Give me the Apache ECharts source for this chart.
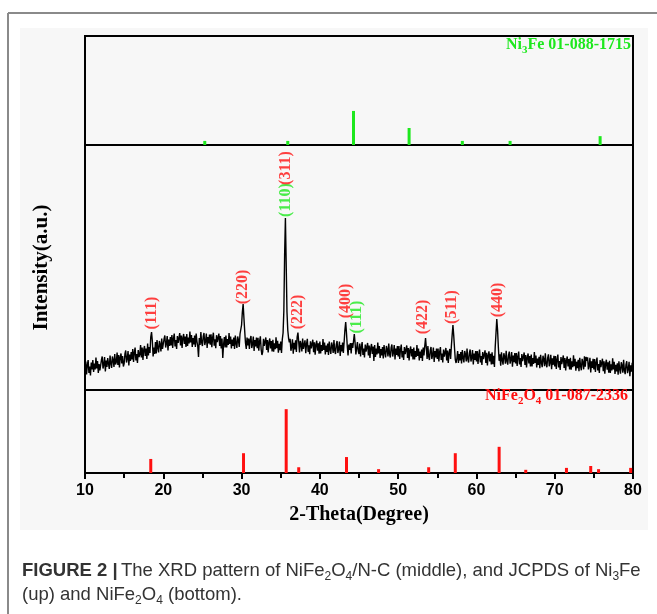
<!DOCTYPE html>
<html>
<head>
<meta charset="utf-8">
<script src="https://cdn.jsdelivr.net/npm/echarts@6/dist/echarts.min.js"></script>
<style>
  html, body { margin: 0; padding: 0; background: #fff; }
  #chart { width: 657px; height: 614px; }
</style>
</head>
<body>
<div id="chart"></div>
<script>
// 2-Theta axis
const thetaMin = 10;
const thetaMax = 80;
const thetaTicks = [10, 20, 30, 40, 50, 60, 70, 80];

// Measured pattern of NiFe2O4/N-C, sampled every 0.1 degree from 10 to 80
const scanStart = 10;
const scanStep = 0.1;
const scanIntensity = [
  180, 285, 155, 250, 300, 170, 235, 145, 275, 205,
  300, 180, 265, 205, 325, 215, 290, 170, 260, 195,
  205, 300, 335, 215, 255, 330, 185, 295, 230, 320,
  325, 210, 345, 265, 220, 335, 300, 230, 360, 255,
  280, 375, 250, 350, 225, 325, 365, 265, 340, 235,
  265, 360, 395, 275, 315, 390, 245, 355, 290, 380,
  305, 410, 280, 375, 425, 295, 360, 270, 400, 330,
  355, 450, 325, 425, 300, 400, 440, 340, 415, 310,
  465, 345, 430, 370, 530, 580, 490, 335, 425, 360,
  480, 365, 500, 420, 375, 490, 455, 385, 515, 410,
  415, 510, 545, 425, 465, 540, 395, 505, 440, 530,
  445, 550, 420, 515, 565, 435, 500, 410, 540, 470,
  475, 570, 445, 545, 420, 520, 560, 460, 535, 430,
  560, 440, 525, 465, 585, 475, 550, 430, 520, 455,
  545, 430, 565, 485, 440, 330, 520, 450, 580, 475,
  440, 535, 570, 450, 490, 565, 420, 530, 465, 555,
  453, 558, 428, 523, 573, 443, 508, 418, 548, 478,
  470, 565, 440, 540, 415, 515, 320, 455, 530, 425,
  545, 425, 510, 450, 570, 460, 535, 415, 505, 440,
  525, 410, 545, 465, 420, 535, 500, 430, 560, 580,
  650, 780, 860, 720, 590, 470, 410, 525, 445, 515,
  410, 505, 540, 420, 460, 535, 390, 500, 435, 525,
  417, 522, 392, 487, 537, 407, 350, 382, 512, 442,
  430, 525, 400, 500, 375, 475, 515, 415, 490, 385,
  503, 383, 468, 408, 528, 418, 493, 373, 463, 398,
  485, 370, 505, 570, 790, 1350, 1720, 1260, 780, 600,
  520, 477, 512, 392, 432, 507, 362, 472, 407, 497,
  380, 530, 575, 480, 375, 490, 455, 385, 515, 410,
  392, 497, 367, 462, 512, 382, 447, 357, 487, 417,
  408, 503, 378, 478, 353, 453, 493, 393, 468, 363,
  485, 365, 450, 390, 510, 400, 475, 355, 445, 380,
  465, 350, 485, 405, 360, 475, 440, 370, 500, 395,
  360, 455, 490, 370, 410, 485, 340, 450, 385, 475,
  370, 480, 600, 680, 570, 440, 345, 455, 400, 470,
  365, 470, 420, 490, 560, 470, 355, 420, 480, 390,
  360, 465, 335, 430, 480, 350, 415, 325, 455, 385,
  375, 470, 345, 445, 320, 420, 460, 360, 435, 290,
  450, 330, 415, 355, 475, 365, 440, 320, 410, 345,
  430, 315, 450, 370, 325, 440, 405, 335, 465, 360,
  325, 420, 455, 335, 375, 450, 305, 415, 350, 440,
  335, 440, 310, 405, 455, 325, 390, 300, 430, 360,
  350, 445, 320, 420, 295, 395, 435, 335, 410, 305,
  425, 305, 390, 330, 450, 340, 415, 295, 385, 320,
  405, 290, 425, 345, 440, 520, 420, 310, 440, 335,
  300, 395, 430, 310, 350, 425, 280, 390, 325, 415,
  310, 415, 285, 380, 430, 300, 365, 275, 405, 335,
  325, 420, 295, 395, 270, 370, 410, 310, 440, 550,
  650, 545, 420, 305, 270, 315, 390, 270, 360, 295,
  380, 265, 400, 320, 275, 390, 355, 285, 415, 310,
  275, 370, 405, 285, 325, 400, 255, 365, 300, 390,
  285, 390, 260, 355, 405, 275, 340, 250, 380, 310,
  301, 396, 271, 371, 246, 346, 386, 286, 361, 256,
  377, 257, 342, 230, 430, 570, 710, 600, 430, 292,
  358, 243, 378, 298, 253, 368, 333, 263, 393, 288,
  254, 349, 384, 264, 304, 379, 234, 344, 279, 369,
  265, 370, 240, 335, 385, 255, 320, 230, 360, 290,
  280, 375, 250, 350, 225, 325, 365, 265, 340, 235,
  355, 235, 320, 260, 380, 270, 345, 225, 315, 250,
  333, 218, 353, 273, 228, 343, 308, 238, 368, 263,
  227, 322, 357, 237, 277, 352, 207, 317, 252, 342,
  235, 340, 210, 305, 355, 225, 290, 200, 330, 260,
  250, 345, 220, 320, 195, 295, 335, 235, 310, 205,
  323, 203, 288, 228, 348, 238, 313, 193, 283, 218,
  302, 187, 322, 242, 197, 312, 277, 207, 337, 232,
  330, 291, 326, 206, 246, 321, 176, 286, 221, 311,
  205, 310, 180, 275, 325, 195, 260, 170, 300, 230,
  218, 313, 188, 288, 163, 263, 303, 203, 278, 173,
  291, 171, 256, 196, 316, 206, 281, 161, 251, 186,
  268, 153, 288, 208, 163, 278, 243, 173, 303, 198,
  158, 253, 288, 168, 208, 283, 138, 248, 183, 273,
  205
];

// JCPDS 01-088-1715, Ni3Fe reference lines (relative intensity)
const ni3feAngles = [25.3, 35.9, 44.3, 51.4, 58.2, 64.3, 75.8];
const ni3feIntensity = [12, 12, 100, 50, 12, 12, 26];

// JCPDS 01-087-2336, NiFe2O4 reference lines (relative intensity)
const nife2o4Angles = [18.4, 30.25, 35.7, 37.3, 43.4, 47.5, 53.9, 57.3, 62.9, 66.3, 71.5, 74.6, 75.6, 79.7];
const nife2o4Intensity = [22, 31, 100, 9, 25, 6, 9, 31, 41, 5, 8, 11, 6, 8];

// Miller-index annotations over the measured pattern
const peakLabels = ['(111)', '(220)', '(110)', '(311)', '(222)', '(400)', '(111)', '(422)', '(511)', '(440)'];
const peakLabelAngles = [18.6, 30.2, 35.6, 35.6, 37.15, 43.3, 44.7, 53.2, 56.9, 62.7];
const peakLabelHeights = [770, 1030, 1900, 2220, 780, 890, 730, 730, 830, 900];
const peakLabelPhase = ['s', 's', 'n', 's', 's', 's', 'n', 's', 's', 's'];

const GREEN = '#1ee81e';
const RED = '#ff1010';
const SERIF = '"Liberation Serif", "Times New Roman", serif';
const SANS = '"Liberation Sans", Arial, sans-serif';

const scanData = scanIntensity.map((v, i) => [+(scanStart + i * scanStep).toFixed(1), v]);
const ni3feData = ni3feAngles.map((a, i) => [a, ni3feIntensity[i]]);
const nife2o4Data = nife2o4Angles.map((a, i) => [a, nife2o4Intensity[i]]);
const labelData = peakLabels.map((t, i) => ({
  name: t,
  value: [peakLabelAngles[i], peakLabelHeights[i]],
  label: { color: peakLabelPhase[i] === 'n' ? GREEN : RED }
}));

const PLOT_LEFT = 85, PLOT_W = 548;
const grids = [
  { left: PLOT_LEFT, width: PLOT_W, top: 36, height: 109 },
  { left: PLOT_LEFT, width: PLOT_W, top: 145, height: 245 },
  { left: PLOT_LEFT, width: PLOT_W, top: 390, height: 83 }
].map(g => Object.assign({ show: true, borderColor: '#000', borderWidth: 2, backgroundColor: 'transparent' }, g));

function hiddenX(idx) {
  return { gridIndex: idx, type: 'value', min: thetaMin, max: thetaMax, interval: 10, show: false };
}

const chart = echarts.init(document.getElementById('chart'), null, { renderer: 'canvas' });

chart.setOption({
  animation: false,
  backgroundColor: '#fff',
  grid: grids,
  xAxis: [
    hiddenX(0),
    hiddenX(1),
    {
      gridIndex: 2, type: 'value', min: thetaMin, max: thetaMax, interval: 10,
      axisLine: { show: true, onZero: false, lineStyle: { color: '#000', width: 2 } },
      axisTick: { show: true, length: 6, lineStyle: { color: '#000', width: 2 } },
      minorTick: { show: true, splitNumber: 2, length: 5, lineStyle: { color: '#000', width: 2 } },
      splitLine: { show: false },
      axisLabel: {
        color: '#000', fontFamily: SANS, fontWeight: 'bold', fontSize: 16, margin: 10,
        customValues: thetaTicks
      },
      name: '2-Theta(Degree)',
      nameLocation: 'middle',
      nameGap: 32,
      nameTextStyle: { color: '#000', fontFamily: SERIF, fontWeight: 'bold', fontSize: 20 }
    }
  ],
  yAxis: [
    { gridIndex: 0, type: 'value', min: 0, max: 320, show: false },
    {
      gridIndex: 1, type: 'value', min: 0, max: 2450,
      axisLine: { show: false }, axisTick: { show: false },
      axisLabel: { show: false }, splitLine: { show: false },
      name: 'Intensity(a.u.)',
      nameLocation: 'middle',
      nameGap: 33,
      nameRotate: 90,
      nameTextStyle: { color: '#000', fontFamily: SERIF, fontWeight: 'bold', fontSize: 21 }
    },
    { gridIndex: 2, type: 'value', min: 0, max: 130, show: false }
  ],
  series: [
    {
      name: 'Ni3Fe', type: 'bar', xAxisIndex: 0, yAxisIndex: 0,
      data: ni3feData, barWidth: 3, itemStyle: { color: GREEN }, silent: true
    },
    {
      name: 'NiFe2O4/N-C', type: 'line', xAxisIndex: 1, yAxisIndex: 1,
      data: scanData, showSymbol: false, symbol: 'none',
      lineStyle: { color: '#000', width: 1.4 }, silent: true
    },
    {
      name: 'hkl', type: 'scatter', xAxisIndex: 1, yAxisIndex: 1,
      data: labelData, symbolSize: 0, silent: true,
      label: {
        show: true, position: 'inside', rotate: 90, formatter: '{b}',
        fontFamily: SERIF, fontWeight: 'bold', fontSize: 16
      }
    },
    {
      name: 'NiFe2O4', type: 'bar', xAxisIndex: 2, yAxisIndex: 2,
      data: nife2o4Data, barWidth: 3, itemStyle: { color: RED }, silent: true
    }
  ],
  graphic: [
    // figure panel and its frame
    { type: 'rect', silent: true, z: -10, shape: { x: 20, y: 28, width: 628, height: 502 }, style: { fill: '#f7f7f7' } },
    { type: 'line', silent: true, shape: { x1: 8, y1: 13, x2: 657, y2: 13 }, style: { stroke: '#8a8a8a', lineWidth: 2 } },
    { type: 'line', silent: true, shape: { x1: 8, y1: 13, x2: 8, y2: 614 }, style: { stroke: '#8a8a8a', lineWidth: 2 } },
    {
      type: 'text', silent: true, right: 26, top: 37,
      style: {
        text: '{m|Ni}{s|3}{m|Fe 01-088-1715}',
        rich: {
          m: { fontFamily: SERIF, fontWeight: 'bold', fontSize: 16, fill: GREEN, lineHeight: 22, verticalAlign: 'middle' },
          s: { fontFamily: SERIF, fontWeight: 'bold', fontSize: 11, fill: GREEN, lineHeight: 22, verticalAlign: 'bottom' }
        }
      }
    },
    {
      type: 'text', silent: true, right: 29, top: 388,
      style: {
        text: '{m|NiFe}{s|2}{m|O}{s|4}{m| 01-087-2336}',
        rich: {
          m: { fontFamily: SERIF, fontWeight: 'bold', fontSize: 16, fill: RED, lineHeight: 22, verticalAlign: 'middle' },
          s: { fontFamily: SERIF, fontWeight: 'bold', fontSize: 11, fill: RED, lineHeight: 22, verticalAlign: 'bottom' }
        }
      }
    },
    {
      type: 'text', silent: true, left: 22, top: 561,
      style: {
        text: '{b|FIGURE 2 |} {t|The XRD pattern of NiFe}{s|2}{t|O}{s|4}{t|/N-C (middle), and JCPDS of Ni}{s|3}{t|Fe}\n{t|(up) and NiFe}{s|2}{t|O}{s|4}{t| (bottom).}',
        rich: {
          b: { fontFamily: SANS, fontWeight: 'bold', fontSize: 18.5, fill: '#333', lineHeight: 24, verticalAlign: 'middle' },
          t: { fontFamily: SANS, fontSize: 18.5, fill: '#333', lineHeight: 24, verticalAlign: 'middle' },
          s: { fontFamily: SANS, fontSize: 12, fill: '#333', lineHeight: 24, verticalAlign: 'bottom' }
        }
      }
    }
  ]
});
</script>
</body>
</html>
